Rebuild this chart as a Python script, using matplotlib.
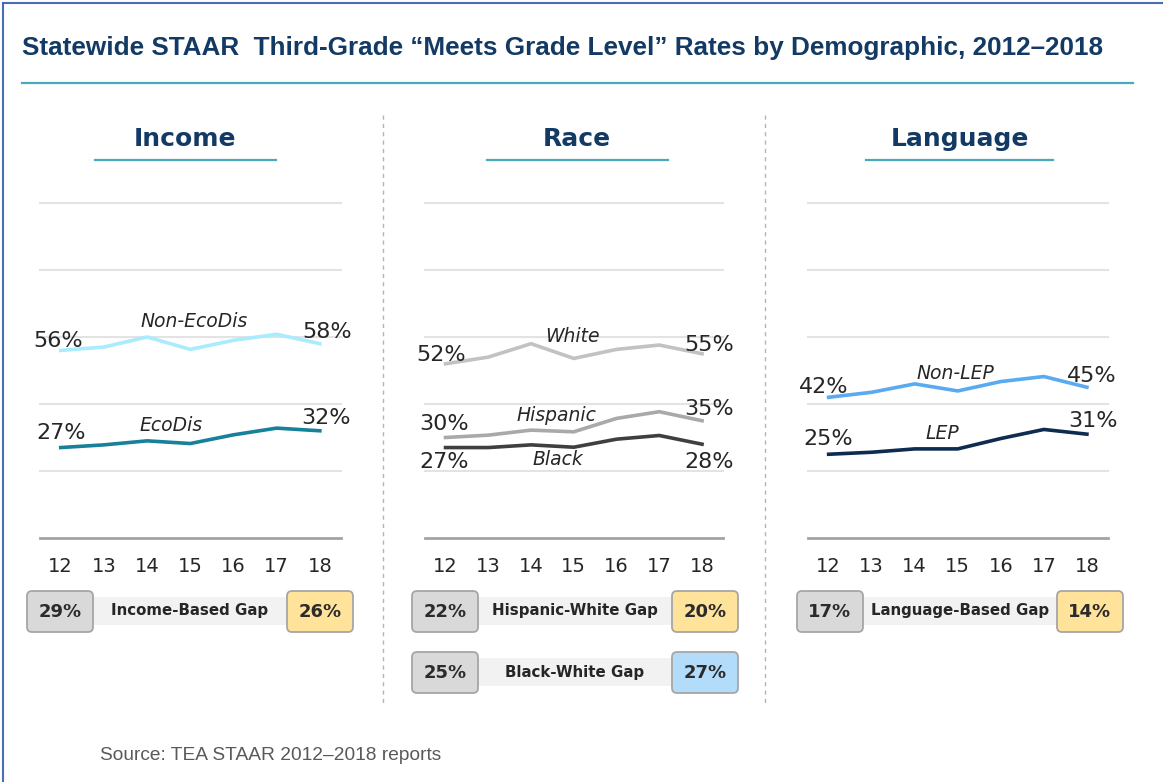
import matplotlib
matplotlib.use("Agg")
import matplotlib.pyplot as plt
from matplotlib.patches import FancyBboxPatch, Rectangle

# data: third-grade "meets grade level" rates, 2012-2018
years = [12, 13, 14, 15, 16, 17, 18]

non_ecodis = [56, 57, 60, 56.3, 59, 60.8, 58]
ecodis = [27, 27.8, 29, 28.2, 30.8, 32.8, 32]

white = [52, 54, 58, 53.6, 56.3, 57.6, 55]
hispanic = [30, 30.7, 32.2, 31.7, 35.7, 37.7, 35]
black = [27, 27, 27.8, 27.1, 29.5, 30.6, 28]

non_lep = [42, 43.5, 46, 43.9, 46.7, 48.2, 45]
lep = [25, 25.6, 26.6, 26.6, 29.7, 32.4, 31]

gap_labels = ["Income-Based Gap", "Hispanic-White Gap", "Black-White Gap", "Language-Based Gap"]
gap_2012 = ["29%", "22%", "25%", "17%"]
gap_2018 = ["26%", "20%", "27%", "14%"]
gap_colors = ["#ffe39b", "#ffe39b", "#b3dcfb", "#ffe39b"]

W, H = 1163, 782
NAVY = "#123a64"
TEAL = "#4aa8c0"

fig = plt.figure(figsize=(W / 100, H / 100), dpi=100)
fig.patch.set_facecolor("white")

# overlay in pixel coordinates for the decorations
ov = fig.add_axes([0, 0, 1, 1])
ov.set_xlim(0, W)
ov.set_ylim(H, 0)
ov.axis("off")
ov.patch.set_alpha(0)

ov.plot([3, W], [3, 3], color="#4a6cb0", lw=1.5)
ov.plot([3, 3], [3, H], color="#4a6cb0", lw=1.5)

ov.text(22, 48, "Statewide STAAR  Third-Grade \u201cMeets Grade Level\u201d Rates by Demographic, 2012\u20132018",
        fontsize=18.8, fontweight="bold", color=NAVY, family="Liberation Sans", va="center", ha="left")
ov.plot([22, 1133], [83, 83], color=TEAL, lw=1.6)

ov.text(100, 755, "Source: TEA STAAR 2012\u20132018 reports", fontsize=13.8, color="#595959",
        family="Liberation Sans", va="center", ha="left")

for xd in [383, 765]:
    ov.plot([xd, xd], [115, 705], color="#b5b5b5", lw=1, ls=(0, (3, 3)))

headings = [("Income", 185, 95, 276), ("Race", 577, 487, 668), ("Language", 960, 866, 1053)]
for name, cx, x0, x1 in headings:
    ov.text(cx, 139, name, fontsize=18, fontweight="bold", color=NAVY, ha="center", va="center")
    ov.plot([x0, x1], [160, 160], color=TEAL, lw=1.6)


def gap_box(x, y, i):
    # band behind label
    ov.add_patch(Rectangle((x + 66, y + 6), 194, 28, facecolor="#f2f2f2", edgecolor="none"))
    ov.add_patch(FancyBboxPatch((x, y), 66, 41, boxstyle="round,pad=0,rounding_size=5",
                                facecolor="#d9d9d9", edgecolor="#a6a6a6", lw=1.3))
    ov.add_patch(FancyBboxPatch((x + 260, y), 66, 41, boxstyle="round,pad=0,rounding_size=5",
                                facecolor=gap_colors[i], edgecolor="#a6a6a6", lw=1.3))
    ov.text(x + 33, y + 21, gap_2012[i], fontsize=13, fontweight="bold", color="#2b2b2b",
            ha="center", va="center")
    ov.text(x + 293, y + 21, gap_2018[i], fontsize=13, fontweight="bold", color="#2b2b2b",
            ha="center", va="center")
    ov.text(x + 163, y + 20, gap_labels[i], fontsize=10.8, fontweight="bold", color="#262626",
            ha="center", va="center")


gap_box(27, 591, 0)
gap_box(412, 591, 1)
gap_box(412, 652, 2)
gap_box(797, 591, 3)


def panel(x0, x1):
    ax = fig.add_axes([x0 / W, 1 - 538 / H, (x1 - x0) / W, 335 / H])
    ax.set_xlim(11.52, 18.49)
    ax.set_ylim(0, 100)
    for s in ax.spines.values():
        s.set_visible(False)
    for g in [20, 40, 60, 80, 100]:
        ax.axhline(g, color="#e3e3e3", lw=1.5, clip_on=False, zorder=0)
    ax.axhline(0, color="#a3a3a3", lw=2, clip_on=False, zorder=0)
    ax.set_yticks([])
    ax.set_xticks(years)
    ax.set_xticklabels([str(y) for y in years], fontsize=14, color="#262626")
    ax.tick_params(axis="x", length=0, pad=14)
    ax.patch.set_alpha(0)
    return ax


def end_labels(ax, vals, off_start, off_end):
    ax.annotate(f"{vals[0]:.0f}%", (years[0], vals[0]), xytext=off_start, textcoords="offset pixels",
                fontsize=16, color="#262626", ha="center", va="center")
    ax.annotate(f"{vals[-1]:.0f}%", (years[-1], vals[-1]), xytext=off_end, textcoords="offset pixels",
                fontsize=16, color="#262626", ha="center", va="center")


def name_label(ax, x, y, s):
    ax.text(x, y, s, fontsize=13.5, style="italic", color="#262626", ha="center", va="center")


# Income
ax1 = panel(40, 341)
ax1.plot(years, non_ecodis, color="#a8ecfd", lw=2.6)
ax1.plot(years, ecodis, color="#17809b", lw=2.6)
end_labels(ax1, non_ecodis, (-3, 9), (7, 12))
end_labels(ax1, ecodis, (0, 15), (6, 13))
name_label(ax1, 15.08, 64.5, "Non-EcoDis")
name_label(ax1, 14.55, 33.6, "EcoDis")

# Race
ax2 = panel(425, 723)
ax2.plot(years, white, color="#c2c2c2", lw=2.6)
ax2.plot(years, hispanic, color="#a9a9a9", lw=2.6)
ax2.plot(years, black, color="#3f3f3f", lw=2.6)
end_labels(ax2, white, (-4, 9), (7, 9))
end_labels(ax2, hispanic, (-1, 14), (7, 12))
end_labels(ax2, black, (-1, -14), (7, -18))
name_label(ax2, 14.97, 60.1, "White")
name_label(ax2, 14.6, 36.6, "Hispanic")
name_label(ax2, 14.62, 23.3, "Black")

# Language
ax3 = panel(808, 1108)
ax3.plot(years, non_lep, color="#5aaaf2", lw=2.6)
ax3.plot(years, lep, color="#0d2c50", lw=2.6)
end_labels(ax3, non_lep, (-5, 10), (5, 11))
end_labels(ax3, lep, (0, 15), (6, 13))
name_label(ax3, 14.95, 49, "Non-LEP")
name_label(ax3, 14.63, 31.2, "LEP")

fig.savefig("out.png", dpi=100)
